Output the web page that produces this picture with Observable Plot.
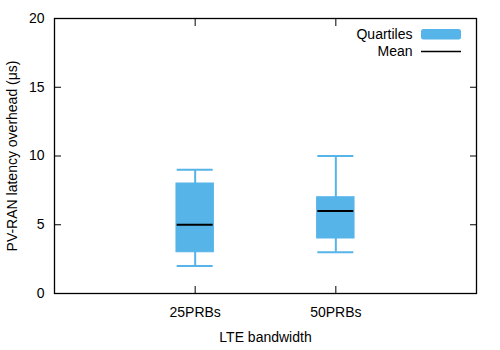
<!DOCTYPE html>
<html><head><meta charset="utf-8">
<script src="https://cdn.jsdelivr.net/npm/d3@7"></script>
<script src="https://cdn.jsdelivr.net/npm/@observablehq/plot@0.6"></script>
<style>body{margin:0;background:#fff}</style>
</head><body><div id="chart"></div>
<script>
const categories = ["25PRBs", "50PRBs"];
const whiskerLow = [2, 3];
const boxLow = [3, 4];
const meanValues = [5, 6];
const boxHigh = [8, 7];
const whiskerHigh = [9, 10];
const yTicks = [0, 5, 10, 15, 20];
const legendLabels = ["Quartiles", "Mean"];

const data = categories.map((c, i) => ({
  c, pos: i + 1,
  wl: whiskerLow[i], bl: boxLow[i], m: meanValues[i], bh: boxHigh[i], wh: whiskerHigh[i]
}));
const xTicks = categories.map((c, i) => i + 1);
const blue = "#56B4E9";
const boxHalf = 0.133, capHalf = 0.128;
const none = () => "";

function legend(index, scales, values, dims) {
  const g = d3.create("svg:g").attr("font-family", "Liberation Sans, Arial, sans-serif").attr("font-size", 14);
  const xr = dims.width - dims.marginRight;
  const top = dims.marginTop;
  g.append("text").attr("x", xr - 63.5).attr("y", top + 21).attr("text-anchor", "end").attr("fill", "black").text(legendLabels[0]);
  g.append("rect").attr("x", xr - 55).attr("y", top + 11).attr("width", 40).attr("height", 10.5).attr("rx", 2.5).attr("fill", blue);
  g.append("text").attr("x", xr - 63.5).attr("y", top + 37.5).attr("text-anchor", "end").attr("fill", "black").text(legendLabels[1]);
  g.append("line").attr("x1", xr - 55).attr("x2", xr - 15).attr("y1", top + 33.5).attr("y2", top + 33.5).attr("stroke", "black").attr("stroke-width", 1.5);
  return g.node();
}

const chart = Plot.plot({
  width: 500, height: 350,
  marginLeft: 54, marginRight: 24, marginTop: 18, marginBottom: 57,
  style: {fontFamily: "Liberation Sans, Arial, sans-serif", fontSize: "14px", color: "black", background: "white"},
  x: {domain: [0, 3]},
  y: {domain: [0, 20]},
  marks: [
    Plot.ruleX(data, {x: "pos", y1: "wl", y2: "wh", stroke: blue, strokeWidth: 2}),
    Plot.ruleY(data, {y: "wl", x1: d => d.pos - capHalf, x2: d => d.pos + capHalf, stroke: blue, strokeWidth: 2}),
    Plot.ruleY(data, {y: "wh", x1: d => d.pos - capHalf, x2: d => d.pos + capHalf, stroke: blue, strokeWidth: 2}),
    Plot.rect(data, {x1: d => d.pos - boxHalf, x2: d => d.pos + boxHalf, y1: "bl", y2: "bh", fill: blue, stroke: blue, strokeWidth: 1}),
    Plot.ruleY(data, {y: "m", x1: d => d.pos - capHalf, x2: d => d.pos + capHalf, stroke: "black", strokeWidth: 2}),
    Plot.axisX({ticks: xTicks, tickFormat: i => categories[i - 1], tickSize: 0, tickPadding: 14,
      label: "LTE bandwidth", labelAnchor: "center", labelArrow: false, labelOffset: 48}),
    Plot.axisX({ticks: xTicks, tickSize: -7, tickFormat: none, label: null}),
    Plot.axisX({anchor: "top", ticks: xTicks, tickSize: -7, tickFormat: none, label: null}),
    Plot.axisY({ticks: yTicks, tickSize: 0, tickPadding: 10,
      label: "PV-RAN latency overhead (μs)", labelAnchor: "center", labelArrow: false, labelOffset: 47}),
    Plot.axisY({ticks: yTicks, tickSize: -7, tickFormat: none, label: null}),
    Plot.axisY({anchor: "right", ticks: yTicks, tickSize: -7, tickFormat: none, label: null}),
    Plot.frame({stroke: "black", strokeWidth: 1.3}),
    legend
  ]
});
document.getElementById("chart").appendChild(chart);
</script>
</body></html>
